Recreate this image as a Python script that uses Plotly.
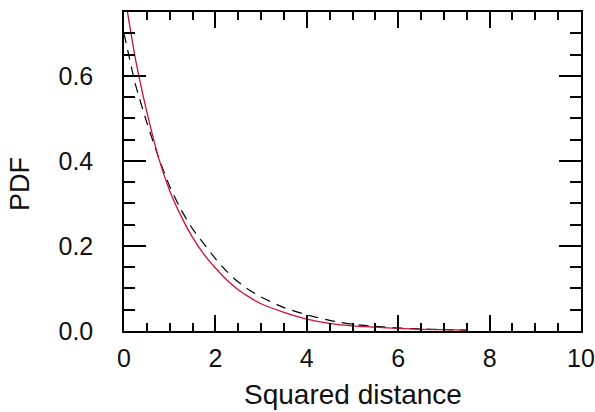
import plotly.graph_objects as go

# Values
x_vals = [0, 0.25, 0.5, 0.75, 1.0, 1.25, 1.5, 1.75, 2.0, 2.25, 2.5, 2.75, 3.0, 3.5,
          4.0, 4.5, 5.0, 5.5, 6.0, 6.5, 7.0, 7.5]
pdf_red = [0.80, 0.64, 0.515, 0.41, 0.33, 0.27, 0.22, 0.18, 0.148, 0.12, 0.097, 0.079,
           0.064, 0.044, 0.028, 0.018, 0.012, 0.009, 0.006, 0.004, 0.003, 0.002]
pdf_dashed = [0.70, 0.58, 0.49, 0.41, 0.34, 0.285, 0.24, 0.205, 0.17, 0.14, 0.115, 0.096,
              0.08, 0.055, 0.038, 0.025, 0.016, 0.011, 0.007, 0.005, 0.003, 0.002]

x_ticks = [0, 2, 4, 6, 8, 10]
y_ticks = [0.0, 0.2, 0.4, 0.6]
x_tick_labels = ["0", "2", "4", "6", "8", "10"]
y_tick_labels = ["0.0", "0.2", "0.4", "0.6"]

FONT = "Liberation Sans, Arial, sans-serif"

fig = go.Figure()
fig.add_trace(go.Scatter(x=x_vals, y=pdf_dashed, mode="lines",
                         line=dict(color="black", width=1.2, dash="10px,7px",
                                   shape="spline", smoothing=0.6),
                         showlegend=False))
fig.add_trace(go.Scatter(x=x_vals, y=pdf_red, mode="lines",
                         line=dict(color="#cc1133", width=1.3,
                                   shape="spline", smoothing=0.6),
                         showlegend=False))

fig.update_layout(
    width=595, height=412,
    margin=dict(l=124, r=14, t=12, b=81, autoexpand=False),
    paper_bgcolor="white", plot_bgcolor="white",
    font=dict(family=FONT, color="#111111", size=24),
    xaxis=dict(range=[0, 10], tickvals=x_ticks, ticktext=x_tick_labels,
               automargin=False,
               ticks="inside", ticklen=16, tickwidth=1.5, tickcolor="black",
               showline=True, linecolor="black", linewidth=1.5, mirror="allticks",
               showgrid=False, zeroline=False, ticklabelstandoff=4,
               ticklabeloverflow="allow",
               tickfont=dict(size=25),
               minor=dict(dtick=0.5, ticks="inside", ticklen=8, tickwidth=1.5,
                          tickcolor="black", showgrid=False)),
    yaxis=dict(range=[0, 0.75], tickvals=y_ticks, ticktext=y_tick_labels,
               automargin=False,
               ticks="inside", ticklen=22, tickwidth=1.5, tickcolor="black",
               showline=True, linecolor="black", linewidth=1.5, mirror="allticks",
               showgrid=False, zeroline=False, ticklabelstandoff=24,
               ticklabeloverflow="allow",
               tickfont=dict(size=25),
               minor=dict(dtick=0.05, ticks="inside", ticklen=11, tickwidth=1.5,
                          tickcolor="black", showgrid=False)),
    annotations=[
        dict(text="Squared distance", xref="paper", yref="paper", x=0.5, y=-0.2,
             xanchor="center", yanchor="middle", showarrow=False,
             font=dict(size=28, family=FONT, color="#111111")),
        dict(text="PDF", xref="paper", yref="paper", x=-0.228, y=0.46,
             xanchor="center", yanchor="middle", showarrow=False, textangle=-90,
             font=dict(size=27, family=FONT, color="#111111")),
    ],
)

fig.write_html("out.html")
